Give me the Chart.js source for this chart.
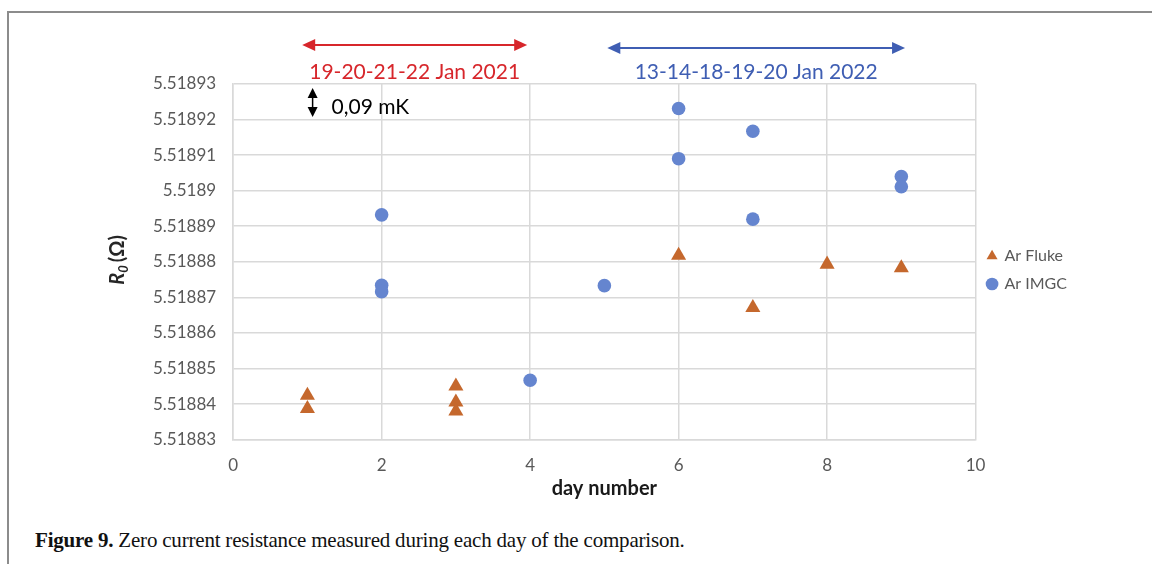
<!DOCTYPE html>
<html lang="en">
<head>
  <meta charset="UTF-8">
  <title>Figure 9</title>
  <script src="https://cdn.jsdelivr.net/npm/chart.js"></script>
  <style>
    html, body { margin: 0; padding: 0; background: #fff; }
    body { width: 1152px; height: 564px; position: relative; overflow: hidden; }
    .frame { position: absolute; left: 7px; top: 11px; width: 1160px; height: 560px;
             border-top: 2px solid #8c8c8c; border-left: 2px solid #8c8c8c; }
    .chart-box { position: absolute; left: 0; top: 0; width: 1152px; height: 510px; }
    .caption { position: absolute; left: 35px; top: 528px; font-family: "Liberation Serif", "DejaVu Serif", serif;
               font-size: 21px; color: #111; letter-spacing: -0.2px; white-space: nowrap; }
  </style>
</head>
<body>
  <div class="frame"></div>
  <div class="chart-box"><canvas id="r0Chart"></canvas></div>
  <div class="caption"><b>Figure 9.</b> Zero current resistance measured during each day of the comparison.</div>

  <script>
    // day number / R0 values
    const flukeDays = [1, 1, 3, 3, 3, 6, 7, 8, 9];
    const flukeR0 = [5.5188424, 5.5188387, 5.518845, 5.5188405, 5.518838, 5.5188818, 5.5188671, 5.5188793, 5.5188783];
    const imgcDays = [2, 2, 2, 4, 5, 6, 6, 7, 7, 9, 9];
    const imgcR0 = [5.5188932, 5.5188734, 5.5188716, 5.5188467, 5.5188733, 5.5189231, 5.518909, 5.5189167, 5.518892, 5.518904, 5.5189011];

    const yTicks = [5.51883, 5.51884, 5.51885, 5.51886, 5.51887, 5.51888, 5.51889, 5.5189, 5.51891, 5.51892, 5.51893];
    const yTickLabels = ['5.51883', '5.51884', '5.51885', '5.51886', '5.51887', '5.51888', '5.51889', '5.5189', '5.51891', '5.51892', '5.51893'];
    const xTicks = [0, 2, 4, 6, 8, 10];

    // measurement campaigns shown above the plot (in day numbers)
    const campaigns = [
      { from: 0.93, to: 3.96, label: '19-20-21-22 Jan 2021', color: '#d7262b' },
      { from: 5.04, to: 9.05, label: '13-14-18-19-20 Jan 2022', color: '#3f5eb3' }
    ];

    const gridColor = '#d9d9d9';
    const tickColor = '#595959';

    function arrowHead(ctx, x, y, dir, len, half) {
      ctx.beginPath();
      ctx.moveTo(x, y);
      ctx.lineTo(x - dir * len, y - half);
      ctx.lineTo(x - dir * len, y + half);
      ctx.closePath();
      ctx.fill();
    }

    const annotations = {
      id: 'annotations',
      afterDraw(chart) {
        const ctx = chart.ctx;
        const xs = chart.scales.x;
        const area = chart.chartArea;
        ctx.save();

        campaigns.forEach((c, i) => {
          const x1 = xs.getPixelForValue(c.from);
          const x2 = xs.getPixelForValue(c.to);
          const ay = area.top - 39 + i * 3;
          ctx.strokeStyle = c.color;
          ctx.fillStyle = c.color;
          ctx.lineWidth = 2;
          ctx.beginPath();
          ctx.moveTo(x1 + 8, ay);
          ctx.lineTo(x2 - 8, ay);
          ctx.stroke();
          arrowHead(ctx, x1, ay, -1, 13, 6);
          arrowHead(ctx, x2, ay, 1, 13, 6);
          ctx.font = '21px Lato';
          ctx.textAlign = 'center';
          ctx.textBaseline = 'middle';
          ctx.fillText(c.label, (x1 + x2) / 2, area.top - 12);
        });

        // 0,09 mK scale marker
        const mx = xs.getPixelForValue(1.07);
        const top = area.top + 4;
        const bot = area.top + 33;
        ctx.strokeStyle = '#000';
        ctx.fillStyle = '#000';
        ctx.lineWidth = 1.5;
        ctx.beginPath();
        ctx.moveTo(mx, top + 6);
        ctx.lineTo(mx, bot - 6);
        ctx.stroke();
        ctx.beginPath();
        ctx.moveTo(mx, top); ctx.lineTo(mx - 5, top + 10); ctx.lineTo(mx + 5, top + 10); ctx.closePath(); ctx.fill();
        ctx.beginPath();
        ctx.moveTo(mx, bot); ctx.lineTo(mx - 5, bot - 10); ctx.lineTo(mx + 5, bot - 10); ctx.closePath(); ctx.fill();
        ctx.font = '21px Lato';
        ctx.textAlign = 'left';
        ctx.textBaseline = 'middle';
        ctx.fillText('0,09 mK', mx + 19, area.top + 23);

        // y axis title R0 (Ω)
        ctx.translate(117, (area.top + area.bottom) / 2 - 2);
        ctx.rotate(-Math.PI / 2);
        ctx.fillStyle = '#262626';
        ctx.textBaseline = 'alphabetic';
        ctx.font = 'italic bold 20px Lato';
        const wR = ctx.measureText('R').width;
        ctx.font = 'italic bold 13px Lato';
        const w0 = ctx.measureText('0').width + 3;
        ctx.font = 'bold 20px Lato';
        const wO = ctx.measureText('(Ω)').width;
        let tx = -(wR + w0 + wO) / 2;
        ctx.font = 'italic bold 20px Lato';
        ctx.fillText('R', tx, 7);
        tx += wR;
        ctx.font = 'italic bold 13px Lato';
        ctx.fillText('0', tx, 11);
        tx += w0;
        ctx.font = 'bold 20px Lato';
        ctx.fillText('(Ω)', tx, 7);
        ctx.restore();
      }
    };

    const ctx = document.getElementById('r0Chart').getContext('2d');
    new Chart(ctx, {
      type: 'scatter',
      data: {
        datasets: [{
          label: 'Ar Fluke',
          data: flukeDays.map((d, i) => ({ x: d, y: flukeR0[i] })),
          pointStyle: 'triangle',
          pointRadius: 8.7,
          pointHoverRadius: 8.7,
          backgroundColor: '#c5682d',
          borderColor: '#c5682d',
          borderWidth: 0
        }, {
          label: 'Ar IMGC',
          data: imgcDays.map((d, i) => ({ x: d, y: imgcR0[i] })),
          pointStyle: 'circle',
          pointRadius: 6.8,
          pointHoverRadius: 6.8,
          backgroundColor: '#6585cf',
          borderColor: '#6585cf',
          borderWidth: 0
        }]
      },
      options: {
        responsive: true,
        maintainAspectRatio: false,
        animation: false,
        layout: { padding: { left: 136, right: 75, top: 84, bottom: 9 } },
        plugins: {
          legend: {
            position: 'right',
            align: 'start',
            title: { display: true, text: '', font: { size: 10 }, padding: { top: 140, bottom: 0 } },
            labels: {
              usePointStyle: true,
              boxWidth: 9,
              boxHeight: 9,
              padding: 12,
              color: tickColor,
              font: { family: 'Lato', size: 16 }
            }
          },
          tooltip: { enabled: false }
        },
        scales: {
          x: {
            type: 'linear',
            min: 0,
            max: 10,
            afterBuildTicks: scale => { scale.ticks = xTicks.map(v => ({ value: v })); },
            ticks: { color: tickColor, font: { family: 'Lato', size: 17 }, padding: 16 },
            grid: { color: gridColor, lineWidth: 1.5, drawTicks: false },
            border: { color: gridColor, width: 1.5 },
            title: {
              display: true,
              text: 'day number',
              color: '#1a1a1a',
              font: { family: 'Lato', size: 20, weight: 'bold' },
              padding: { top: -15, bottom: 0 }
            }
          },
          y: {
            min: yTicks[0],
            max: yTicks[yTicks.length - 1],
            afterBuildTicks: scale => { scale.ticks = yTicks.map(v => ({ value: v })); },
            ticks: {
              color: tickColor,
              font: { family: 'Lato', size: 17 },
              padding: 17,
              callback: (v, i) => yTickLabels[i]
            },
            grid: { color: gridColor, lineWidth: 1.5, drawTicks: false },
            border: { color: gridColor, width: 1.5 }
          }
        }
      },
      plugins: [annotations]
    });
  </script>
</body>
</html>
